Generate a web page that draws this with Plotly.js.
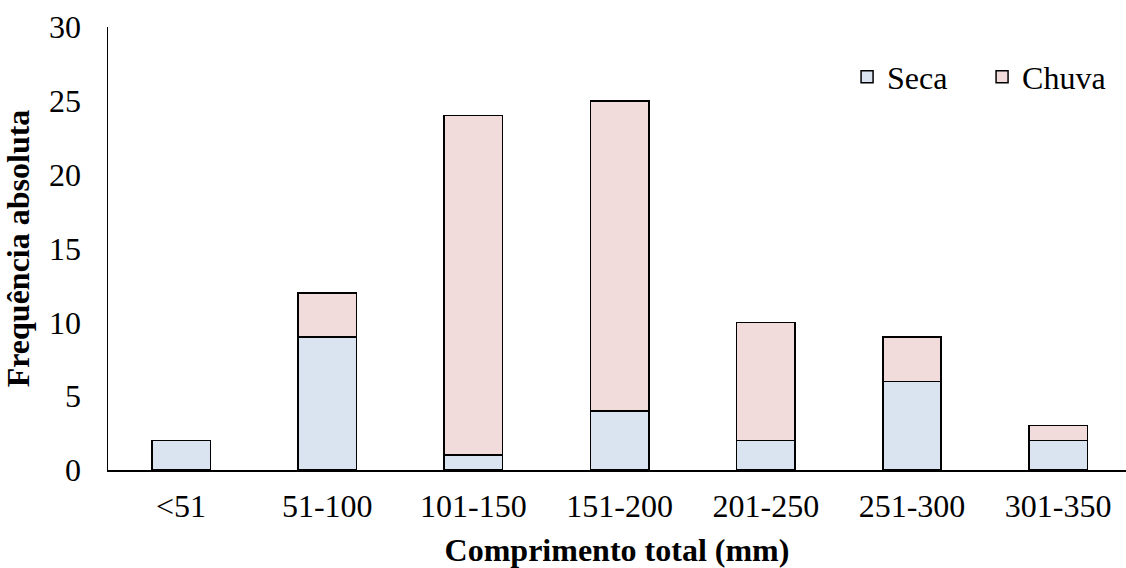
<!DOCTYPE html>
<html>
<head>
<meta charset="utf-8">
<script src="https://cdn.plot.ly/plotly-3.0.1.min.js"></script>
<style>html,body{margin:0;padding:0;background:#fff;}#chart{width:1126px;height:568px;}</style>
</head>
<body>
<div id="chart"></div>
<script>
const categories = ["<51", "51-100", "101-150", "151-200", "201-250", "251-300", "301-350"];
const seca = [2, 9, 1, 4, 2, 6, 2];
const chuva = [0, 3, 23, 21, 8, 3, 1];
const yTicks = [0, 5, 10, 15, 20, 25, 30];

const font = {family: "'Liberation Serif', serif", size: 32, color: "#000"};

const traces = [
  {type: "bar", name: "Seca", x: categories, y: seca, width: 0.4,
   marker: {color: "#dae3f0", line: {color: "#000", width: 1.5}}},
  {type: "bar", name: "Chuva", x: categories, y: chuva, width: 0.4,
   marker: {color: "#f2dcdb", line: {color: "#000", width: 1.5}}}
];

const layout = {
  width: 1126, height: 568,
  margin: {l: 108, r: 0, t: 27, b: 98},
  barmode: "stack",
  paper_bgcolor: "#fff", plot_bgcolor: "#fff",
  font: font,
  showlegend: true,
  legend: {orientation: "h", x: 0.726, y: 0.887, xanchor: "left", yanchor: "middle",
           traceorder: "normal", font: font, itemwidth: 30, entrywidth: 90,
           bgcolor: "rgba(0,0,0,0)"},
  xaxis: {type: "category", range: [-0.5, 6.464], showline: true, linecolor: "#000", linewidth: 1.5,
          ticks: "", showgrid: false, tickfont: font, ticklabelstandoff: 7,
          title: {text: "<b>Comprimento total (mm)</b>", font: font, standoff: 15}},
  yaxis: {range: [0, 30], tickvals: yTicks, ticktext: yTicks.map(String), showline: true,
          linecolor: "#000", linewidth: 1.5, ticks: "", showgrid: false, zeroline: false,
          tickfont: font, ticklabelstandoff: 19,
          title: {text: "<b>Frequência absoluta</b>", font: font, standoff: 12}}
};

Plotly.newPlot("chart", traces, layout, {displayModeBar: false, staticPlot: true});
</script>
</body>
</html>
